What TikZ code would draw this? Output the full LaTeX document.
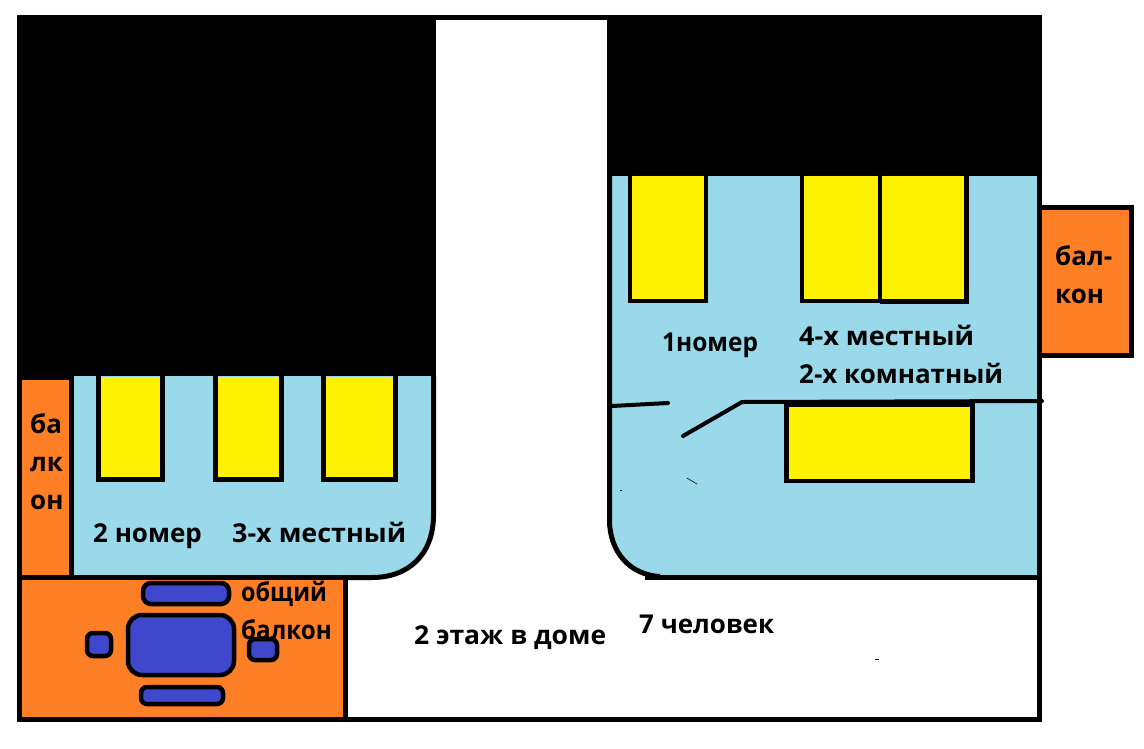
\documentclass[tikz,border=0pt]{standalone}
\usepackage{fontspec}
\setmainfont{Open Sans}[BoldFont={Open Sans Bold}]
\definecolor{roomblue}{HTML}{99D9EA}
\definecolor{balc}{HTML}{FF7F27}
\definecolor{bedy}{HTML}{FFF200}
\definecolor{furn}{HTML}{3F48CC}
\newcommand{\sx}[2]{\scalebox{#1}[1]{#2}}
\tikzset{
  x=1pt,y=-1pt,
  bed/.style={draw=black,line width=4.5pt,fill=bedy},
  furniture/.style={draw=black,line width=4.5pt,fill=furn,rounded corners=#1},
  wall/.style={line width=5pt,black},
  thinwall/.style={line width=4pt,black,line cap=round},
  lbl/.style={anchor=base west,inner sep=0pt,font=\bfseries\fontsize{26}{26}\selectfont,text=black},
}
\begin{document}
\begin{tikzpicture}
\useasboundingbox (0,0) rectangle (1144,748);
\fill[white] (0,0) rectangle (1144,748);
% black masses
\fill[black] (17,15) rectangle (436,380);
\fill[black] (607,15) rectangle (1042,176);
\fill[black] (436,15) rectangle (607,20);
% left room
\fill[roomblue] (71,376) -- (431,376) -- (431,515) .. controls (431,552) and (408,575) .. (372,575) -- (71,575) -- cycle;
\draw[wall] (433.5,376) -- (433.5,515) .. controls (433.5,555) and (408,577.5) .. (372,577.5) -- (17,577.5);
\draw[line width=5pt,black] (71.5,376) -- (71.5,577);
% left balcony
\fill[balc] (22,380) rectangle (69,575);
% common balcony
\fill[balc] (22,580) rectangle (343,717);
\draw[wall] (19.5,376) -- (19.5,721);
\draw[wall] (345.5,577) -- (345.5,721);
\draw[wall] (17,719) -- (1042,719);
\draw[wall] (1039.5,176) -- (1039.5,721);
% right room
\fill[roomblue] (612,176) -- (1037,176) -- (1037,575) -- (660,575) .. controls (630,575) and (612,550) .. (612,520) -- cycle;
\draw[wall] (609.5,176) -- (609.5,520) .. controls (609.5,552) and (630,575) .. (660,576.5);
\draw[wall] (645,577.5) -- (1042,577.5);
\draw[wall] (1039.5,176) -- (1039.5,580);
% right balcony
\draw[wall,fill=balc] (1042,207.5) -- (1131.5,207.5) -- (1131.5,355.5) -- (1042,355.5);
% beds: fill from the black band, stroke on three sides only
\fill[bedy] (98,377) rectangle (163,480);
\draw[bed,fill=none] (98.5,376) |- (162.5,479.5) -- (162.5,376);
\fill[bedy] (215,377) rectangle (282,480);
\draw[bed,fill=none] (215.5,376) |- (281.5,479.5) -- (281.5,376);
\fill[bedy] (323,377) rectangle (396,480);
\draw[bed,fill=none] (323.5,376) |- (395.5,479.5) -- (395.5,376);
\fill[bedy] (630,176) rectangle (706,301);
\draw[bed,fill=none] (630,176) |- (706,301) -- (706,176);
\fill[bedy] (802,176) rectangle (966,301);
\draw[bed,fill=none] (802,176) |- (880,301) -- (880,176);
\draw[bed,fill=none] (880,301.5) -| (966.5,176);
\draw[bed] (786.5,403) rectangle (972.5,481);
% walls and door
\draw[thinwall] (612,406) -- (668,403);
\draw[thinwall] (683,436) -- (742,402) -- (1042,401);
\draw[line width=5pt,black] (784,404) -- (974,404);
% specks
\draw[black,line width=.6pt] (687,478) -- (697,484);
\fill[black] (875,659) rectangle (879,660);
\fill[black] (620,490) rectangle (622,491);
% furniture
\draw[furniture=8pt] (143,583) rectangle (229,604);
\draw[furniture=14pt] (128,615) rectangle (234,675);
\draw[furniture=6pt] (141,687) rectangle (223,704);
\draw[furniture=6pt] (87,633) rectangle (111,656);
\draw[furniture=6pt] (249,639) rectangle (277,660);
% labels
\node[lbl] (t1) at (30,433) {ба};
\node[lbl] (t2) at (30,471) {лк};
\node[lbl] (t3) at (30,509) {он};
\node[lbl] (t4) at (93,542) {2 номер};
\node[lbl] (t5) at (232,542) {\sx{1.035}{3-х местный}};
\node[lbl] (t6) at (241,601) {\sx{0.9}{общий}};
\node[lbl] (t7) at (241,639) {\sx{0.93}{балкон}};
\node[lbl] (t8) at (414,644) {\sx{1.02}{2 этаж в доме}};
\node[lbl] (t9) at (639,633) {7 человек};
\node[lbl] (t10) at (662,351) {\sx{0.94}{1номер}};
\node[lbl] (t11) at (799,345) {\sx{1.04}{4-х местный}};
\node[lbl] (t12) at (799,383) {2-х комнатный};
\node[lbl] (t13) at (1055,265) {бал-};
\node[lbl] (t14) at (1055,303) {кон};
\end{tikzpicture}
\end{document}
